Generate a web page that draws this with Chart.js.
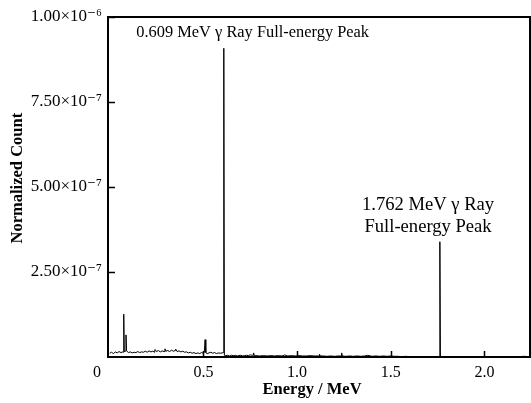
<!DOCTYPE html>
<html>
<head>
<meta charset="utf-8">
<script src="https://cdn.jsdelivr.net/npm/chart.js@4/dist/chart.umd.min.js"></script>
<style>
  html, body { margin: 0; padding: 0; background: #ffffff; }
  canvas { display: block; }
</style>
</head>
<body>
<canvas id="c" width="531" height="403"></canvas>
<script>
// ---- Data ----
const energyMeV = [
  0.000, 0.010, 0.020, 0.030, 0.040, 0.050, 0.060, 0.070, 0.073, 0.075, 0.078, 0.084, 0.087, 0.090,
  0.100, 0.110, 0.120, 0.130, 0.140, 0.150, 0.160, 0.170, 0.180, 0.190, 0.200, 0.210, 0.220, 0.230,
  0.240, 0.242, 0.250, 0.260, 0.270, 0.280, 0.290, 0.295, 0.300, 0.310, 0.320, 0.330, 0.340, 0.350,
  0.352, 0.360, 0.370, 0.380, 0.390, 0.400, 0.410, 0.420, 0.430, 0.440, 0.450, 0.460, 0.470, 0.480,
  0.490, 0.500, 0.505, 0.509, 0.513, 0.520, 0.530, 0.540, 0.550, 0.560, 0.570, 0.580, 0.590, 0.600,
  0.606, 0.609, 0.612, 0.620, 0.630, 0.640, 0.650, 0.660, 0.670, 0.680, 0.690, 0.700, 0.710, 0.720,
  0.730, 0.740, 0.750, 0.765, 0.768, 0.771, 0.780, 0.800, 0.820, 0.840, 0.860, 0.880, 0.900, 0.920,
  0.934, 0.950, 0.970, 0.990, 1.010, 1.030, 1.050, 1.070, 1.090, 1.117, 1.120, 1.123, 1.140, 1.160,
  1.180, 1.200, 1.220, 1.235, 1.238, 1.241, 1.260, 1.280, 1.300, 1.320, 1.340, 1.360, 1.377, 1.400,
  1.420, 1.440, 1.460, 1.480, 1.500, 1.520, 1.540, 1.560, 1.580, 1.600, 1.650, 1.700, 1.750, 1.759,
  1.762, 1.765, 1.800, 1.850, 1.900, 1.950, 2.000, 2.050, 2.100, 2.150, 2.200, 2.204, 2.250
];
const normalizedCount = [
  1.1e-8, 1.4e-8, 1.0e-8, 1.5e-8, 1.2e-8, 1.6e-8, 1.3e-8, 1.5e-8, 1.4e-8, 1.26e-7, 1.6e-8, 1.7e-8, 6.5e-8, 1.8e-8,
  1.3e-8, 1.5e-8, 1.2e-8, 1.4e-8, 1.3e-8, 1.6e-8, 1.3e-8, 1.5e-8, 1.4e-8, 1.7e-8, 1.4e-8, 1.8e-8, 1.5e-8, 1.7e-8,
  1.4e-8, 2.2e-8, 1.6e-8, 1.9e-8, 1.5e-8, 1.8e-8, 1.6e-8, 2.4e-8, 1.7e-8, 1.9e-8, 1.6e-8, 2.0e-8, 1.7e-8, 1.9e-8,
  2.3e-8, 1.6e-8, 1.8e-8, 1.5e-8, 1.7e-8, 1.4e-8, 1.5e-8, 1.2e-8, 1.4e-8, 1.1e-8, 1.3e-8, 1.0e-8, 1.2e-8, 1.0e-8,
  1.3e-8, 1.1e-8, 1.4e-8, 5.1e-8, 1.3e-8, 1.0e-8, 1.2e-8, 1.4e-8, 1.1e-8, 1.3e-8, 1.0e-8, 1.2e-8, 1.1e-8, 1.2e-8,
  1.3e-8, 9.08e-7, 5e-9, 4e-9, 5e-9, 3e-9, 5e-9, 4e-9, 5e-9, 3e-9, 4e-9, 5e-9, 3e-9, 4e-9,
  5e-9, 4e-9, 6e-9, 5e-9, 1.2e-8, 5e-9, 4e-9, 3e-9, 4e-9, 3e-9, 4e-9, 3e-9, 4e-9, 3e-9,
  6e-9, 3e-9, 4e-9, 3e-9, 4e-9, 3e-9, 3e-9, 4e-9, 3e-9, 3e-9, 8e-9, 3e-9, 3e-9, 2e-9,
  3e-9, 2e-9, 3e-9, 3e-9, 1.2e-8, 3e-9, 2e-9, 3e-9, 2e-9, 3e-9, 2e-9, 3e-9, 5e-9, 2e-9,
  3e-9, 2e-9, 3e-9, 2e-9, 3e-9, 2e-9, 2e-9, 1e-9, 2e-9, 1e-9, 1e-9, 1e-9, 1e-9, 1e-9,
  3.39e-7, 1e-9, 1e-9, 1e-9, 1e-9, 1e-9, 1e-9, 1e-9, 1e-9, 1e-9, 1e-9, 2e-9, 1e-9
];
const xTickValues = [0.5, 1.0, 1.5, 2.0];
const xTickLabels = ["0.5", "1.0", "1.5", "2.0"];
const yTickValues = [2.5e-7, 5.0e-7, 7.5e-7, 1.0e-6];
const yTickLabels = ["2.50×10⁻⁷", "5.00×10⁻⁷", "7.50×10⁻⁷", "1.00×10⁻⁶"];
const originLabel = "0";
const xAxisTitle = "Energy / MeV";
const yAxisTitle = "Normalized Count";
const peakLabel1 = ["0.609 MeV γ Ray Full-energy Peak"];
const peakLabel2 = ["1.762 MeV γ Ray", "Full-energy Peak"];

// ---- Chart ----
const SERIF = "'Liberation Serif', 'Times New Roman', 'DejaVu Serif', serif";

const points = energyMeV.map((e, i) => ({ x: e, y: normalizedCount[i] }));

const decorPlugin = {
  id: 'decor',
  afterDraw(chart) {
    const { ctx, chartArea: a, scales } = chart;
    const xs = scales.x, ys = scales.y;
    ctx.save();
    // inward tick marks
    ctx.strokeStyle = '#000';
    ctx.lineWidth = 1.5;
    ctx.beginPath();
    xTickValues.forEach(v => {
      const px = Math.round(xs.getPixelForValue(v)) + 0.5;
      ctx.moveTo(px, a.bottom);
      ctx.lineTo(px, a.bottom - 6);
    });
    yTickValues.forEach(v => {
      const py = Math.round(ys.getPixelForValue(v)) + 0.5;
      ctx.moveTo(a.left, py);
      ctx.lineTo(a.left + 7, py);
    });
    ctx.stroke();
    // frame
    ctx.lineWidth = 2;
    ctx.strokeRect(a.left, a.top, a.right - a.left, a.bottom - a.top);
    ctx.fillStyle = '#000';
    ctx.textAlign = 'center';
    ctx.textBaseline = 'middle';
    // origin label
    ctx.font = '16px ' + SERIF;
    ctx.fillText(originLabel, a.left - 11, a.bottom + 16);
    // axis titles
    ctx.font = 'bold 16.5px ' + SERIF;
    ctx.fillText(xAxisTitle, xs.getPixelForValue(1.08), a.bottom + 33);
    ctx.save();
    ctx.translate(18, ys.getPixelForValue(5.26e-7));
    ctx.rotate(-Math.PI / 2);
    ctx.fillText(yAxisTitle, 0, 0);
    ctx.restore();
    // peak annotations
    ctx.font = '16.4px ' + SERIF;
    peakLabel1.forEach((t, i) => {
      ctx.fillText(t, xs.getPixelForValue(0.763), ys.getPixelForValue(9.53e-7) + i * 21);
    });
    ctx.font = '18.6px ' + SERIF;
    peakLabel2.forEach((t, i) => {
      ctx.fillText(t, xs.getPixelForValue(1.699), ys.getPixelForValue(4.47e-7) + i * 22);
    });
    ctx.restore();
  }
};

new Chart(document.getElementById('c'), {
  type: 'line',
  data: {
    datasets: [{
      data: points,
      borderColor: '#000',
      borderWidth: 1,
      pointRadius: 0,
      tension: 0,
      fill: false
    }]
  },
  options: {
    responsive: false,
    animation: false,
    devicePixelRatio: 1,
    layout: { padding: { top: 17, right: 1, left: 0, bottom: 0 } },
    plugins: { legend: { display: false }, tooltip: { enabled: false } },
    scales: {
      x: {
        type: 'linear',
        min: -0.009,
        max: 2.243,
        afterFit(s) { s.height = 46; },
        afterBuildTicks(s) { s.ticks = xTickValues.map(v => ({ value: v })); },
        grid: { display: false, drawTicks: false },
        border: { display: false },
        ticks: {
          autoSkip: false,
          maxRotation: 0,
          padding: 6,
          color: '#000',
          font: { family: SERIF, size: 16 },
          callback: (v, i) => xTickLabels[i]
        },
        title: { display: false }
      },
      y: {
        type: 'linear',
        min: 0,
        max: 1.0e-6,
        afterFit(s) { s.width = 108; },
        afterBuildTicks(s) { s.ticks = yTickValues.map(v => ({ value: v })); },
        grid: { display: false, drawTicks: false },
        border: { display: false },
        ticks: {
          autoSkip: false,
          padding: 6,
          color: '#000',
          font: { family: SERIF, size: 17 },
          callback: (v, i) => yTickLabels[i]
        },
        title: { display: false }
      }
    }
  },
  plugins: [decorPlugin]
});
</script>
</body>
</html>
